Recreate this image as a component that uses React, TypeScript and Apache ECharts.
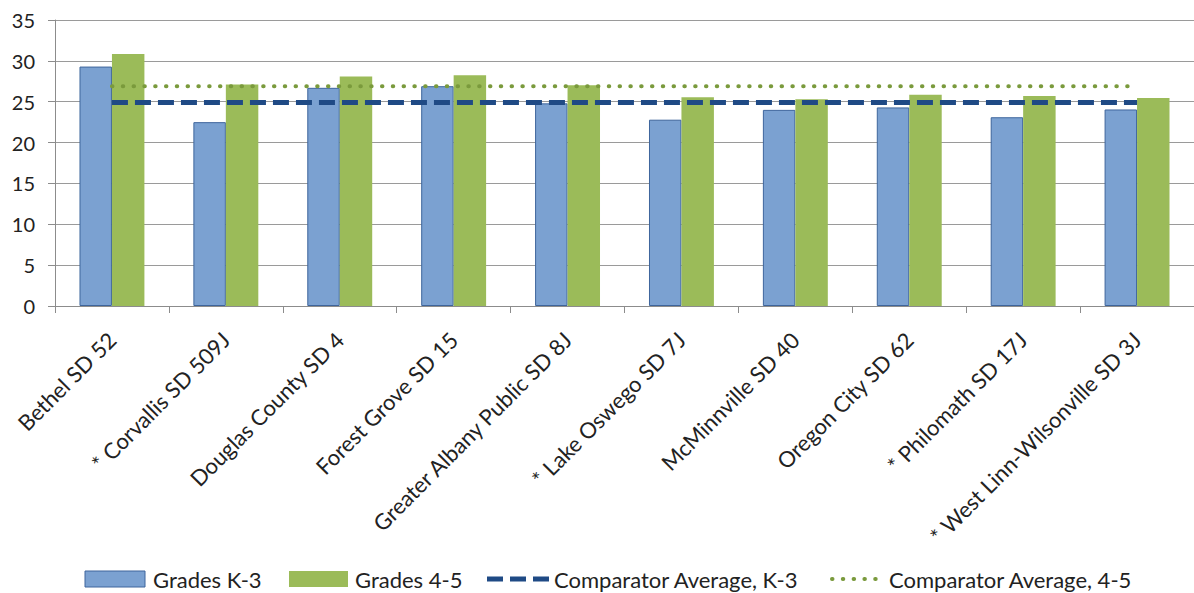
import React, { useEffect, useRef } from "react";
import * as echarts from "echarts";

const categories = [
  "Bethel SD 52",
  "* Corvallis SD 509J",
  "Douglas County SD 4",
  "Forest Grove SD 15",
  "Greater Albany Public SD 8J",
  "* Lake Oswego SD 7J",
  "McMinnville SD 40",
  "Oregon City SD 62",
  "* Philomath SD 17J",
  "* West Linn-Wilsonville SD 3J",
];
const gradesK3 = [29.3, 22.5, 26.7, 26.9, 24.8, 22.8, 24.0, 24.3, 23.1, 24.05];
const grades45 = [30.85, 27.1, 28.1, 28.25, 27.0, 25.55, 25.3, 25.85, 25.7, 25.45];
const compAvgK3 = [24.9, 24.9, 24.9, 24.9, 24.9, 24.9, 24.9, 24.9, 24.9, 24.9];
const compAvg45 = [26.9, 26.9, 26.9, 26.9, 26.9, 26.9, 26.9, 26.9, 26.9, 26.9];
const yTicks = [0, 5, 10, 15, 20, 25, 30, 35];
const seriesNames = [
  "Grades K-3",
  "Grades 4-5",
  "Comparator Average, K-3",
  "Comparator Average, 4-5",
];

const FONT = "Lato, 'Liberation Sans', sans-serif";
const BLUE = "#7ba1d1";
const BLUE_BORDER = "#3e659c";
const GREEN = "#9bbb59";
const DASH_BLUE = "#1f4a85";
const DOT_GREEN = "#7a9a3c";

export default function App() {
  const ref = useRef<HTMLDivElement>(null);
  useEffect(() => {
    document.body.style.margin = "0";
    const chart = echarts.init(ref.current!, null, { renderer: "svg" });
    const ly = 579;
    const textStyle = (x: number, t: string) => ({
      type: "text",
      x,
      y: ly,
      style: {
        text: t,
        fontFamily: FONT,
        fontSize: 22,
        fill: "#222",
        verticalAlign: "middle",
        align: "left",
      },
    });
    chart.setOption({
      animation: false,
      backgroundColor: "#ffffff",
      grid: { left: 55, right: -2, top: 20, bottom: 287, containLabel: false },
      graphic: [
        {
          type: "rect",
          shape: { x: 85, y: ly - 8, width: 60, height: 16 },
          style: { fill: BLUE, stroke: BLUE_BORDER, lineWidth: 1 },
        },
        textStyle(153, seriesNames[0]),
        {
          type: "rect",
          shape: { x: 289, y: ly - 8, width: 59, height: 16 },
          style: { fill: GREEN },
        },
        textStyle(355, seriesNames[1]),
        {
          type: "line",
          shape: { x1: 487, y1: ly, x2: 549, y2: ly },
          style: { stroke: DASH_BLUE, lineWidth: 5, lineDash: [16, 7] },
        },
        textStyle(554, seriesNames[2]),
        {
          type: "line",
          shape: { x1: 832, y1: ly, x2: 886, y2: ly },
          style: { stroke: DOT_GREEN, lineWidth: 4, lineDash: [0.5, 10.3], lineCap: "round" },
        },
        textStyle(889, seriesNames[3]),
      ],
      xAxis: {
        type: "category",
        data: categories,
        boundaryGap: true,
        axisLine: { lineStyle: { color: "#8c8c8c", width: 1 } },
        axisTick: { show: true, length: 7, lineStyle: { color: "#8c8c8c" } },
        axisLabel: {
          interval: 0,
          rotate: 45,
          fontFamily: FONT,
          fontSize: 22,
          color: "#222",
          margin: 30,
        },
      },
      yAxis: {
        type: "value",
        min: yTicks[0],
        max: yTicks[yTicks.length - 1],
        interval: 5,
        axisLine: { show: true, lineStyle: { color: "#8c8c8c" } },
        axisTick: { show: true, length: 7, lineStyle: { color: "#8c8c8c" } },
        splitLine: { lineStyle: { color: "#9a9a9a", width: 1 } },
        axisLabel: { fontFamily: FONT, fontSize: 20, color: "#222", margin: 20 },
      },
      series: [
        {
          name: seriesNames[0],
          type: "bar",
          data: gradesK3,
          barGap: "0%",
          barCategoryGap: "43%",
          itemStyle: { color: BLUE, borderColor: BLUE_BORDER, borderWidth: 1 },
        },
        {
          name: seriesNames[1],
          type: "bar",
          data: grades45,
          itemStyle: { color: GREEN },
        },
        {
          name: seriesNames[2],
          type: "line",
          data: compAvgK3,
          symbol: "none",
          z: 5,
          itemStyle: { color: DASH_BLUE },
          lineStyle: { color: DASH_BLUE, width: 5, type: [16, 7] },
        },
        {
          name: seriesNames[3],
          type: "line",
          data: compAvg45,
          symbol: "none",
          z: 5,
          itemStyle: { color: DOT_GREEN },
          lineStyle: { color: DOT_GREEN, width: 4, type: [0.5, 10.3], cap: "round" },
        },
      ],
    });
    return () => chart.dispose();
  }, []);
  return <div ref={ref} style={{ width: 1194, height: 593 }} />;
}
